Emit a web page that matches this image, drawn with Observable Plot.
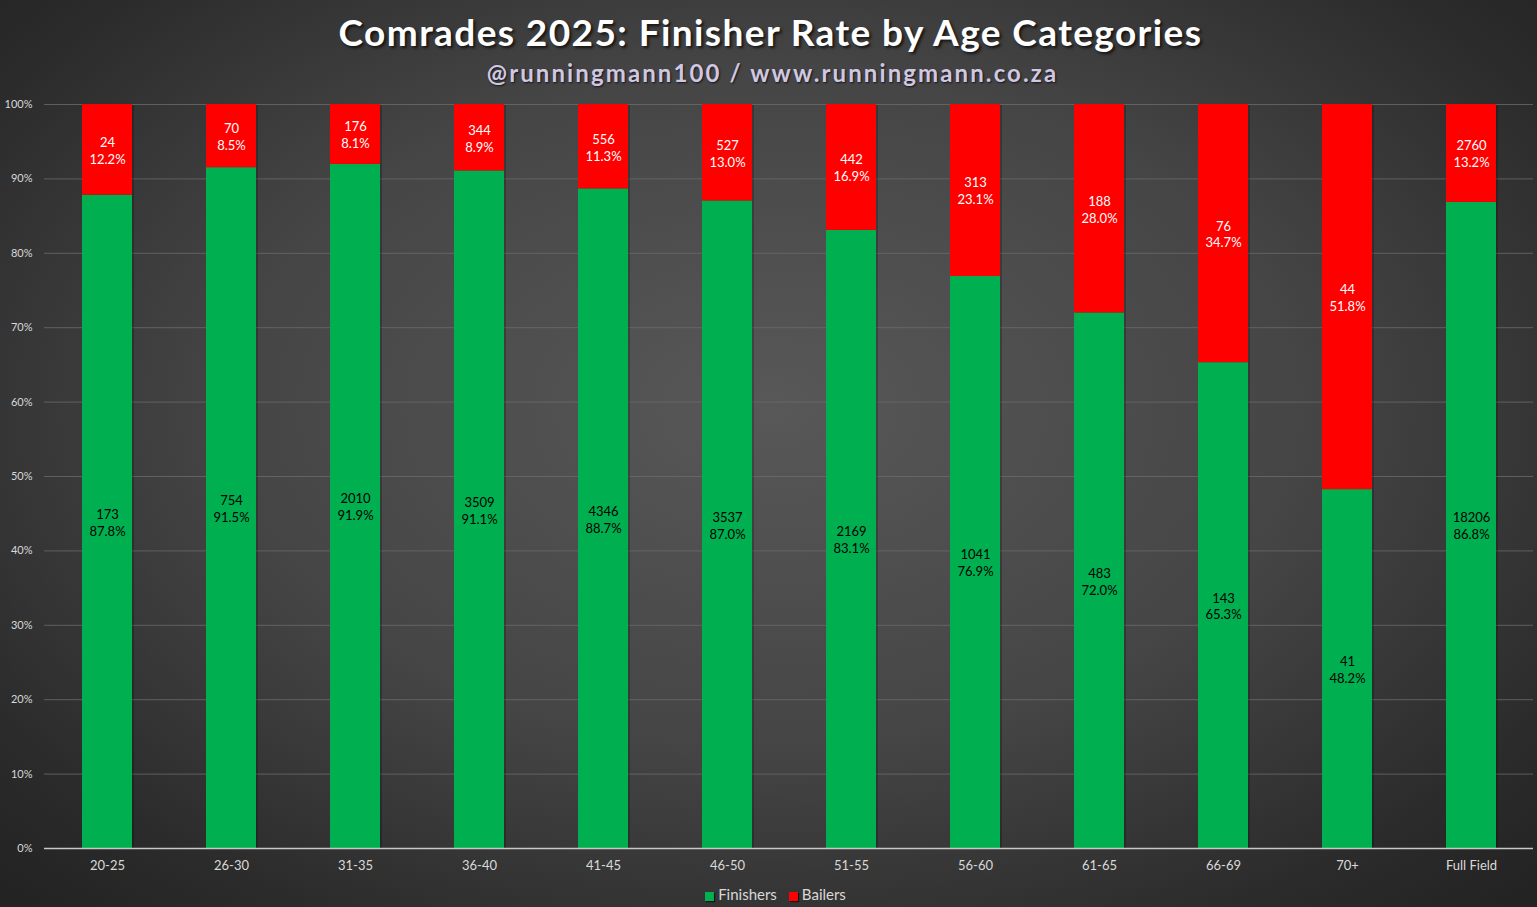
<!DOCTYPE html>
<html><head><meta charset="utf-8">
<script src="https://cdn.jsdelivr.net/npm/d3@7"></script>
<script src="https://cdn.jsdelivr.net/npm/@observablehq/plot@0.6"></script>
<style>
body{margin:0;background:#2a2a2a;}
#wrap{position:relative;width:1537px;height:907px;overflow:hidden;
 background:radial-gradient(ellipse 70% 75% at 50% 45%, #585858 0%, #454545 50%, #2b2b2b 85%, #232323 100%);
 font-family:Lato,"Open Sans",sans-serif;}
#title{position:absolute;top:8px;left:2px;width:100%;text-align:center;color:#fff;font-weight:700;font-size:37px;line-height:48px;letter-spacing:1.4px;text-shadow:2px 2px 3px rgba(0,0,0,.7);}
#subtitle{position:absolute;top:58px;left:4px;width:100%;text-align:center;color:#d0c8e2;font-weight:700;font-size:24px;line-height:30px;letter-spacing:2.1px;text-shadow:1px 1px 2px rgba(0,0,0,.7);}
#chart{position:absolute;top:90px;left:0;}
#legend{position:absolute;top:884px;left:7px;width:100%;text-align:center;color:#d9d9d9;font-size:15px;line-height:20px;}
#legend span.sw{display:inline-block;width:9px;height:9px;margin-right:4px;vertical-align:-1px;box-shadow:1px 1px 1px rgba(0,0,0,.6);}
#legend span.item{margin:0 6px;}
</style></head>
<body>
<div id="wrap">
 <div id="title">Comrades 2025: Finisher Rate by Age Categories</div>
 <div id="subtitle">@runningmann100 / www.runningmann.co.za</div>
 <div id="chart"></div>
 <div id="legend"></div>
</div>
<script>
const categories = ["20-25","26-30","31-35","36-40","41-45","46-50","51-55","56-60","61-65","66-69","70+","Full Field"];
const finishers = [173,754,2010,3509,4346,3537,2169,1041,483,143,41,18206];
const bailers = [24,70,176,344,556,527,442,313,188,76,44,2760];
const yTicks = [0,0.1,0.2,0.3,0.4,0.5,0.6,0.7,0.8,0.9,1];
const seriesNames = ["Finishers","Bailers"];
const seriesColors = ["#00b050","#ff0000"];
const labelColors = ["#000000","#ffffff"];

const rows = [];
categories.forEach((c,i)=>{
  const tot = finishers[i]+bailers[i];
  const fs = finishers[i]/tot;
  rows.push({cat:c, series:seriesNames[0], y1:0, y2:fs, count:finishers[i], share:fs});
  rows.push({cat:c, series:seriesNames[1], y1:fs, y2:1, count:bailers[i], share:1-fs});
});
const pct = d3.format(".1%");

const chart = Plot.plot({
  width:1537, height:800,
  marginLeft:44, marginRight:4, marginTop:14, marginBottom:42,
  style:{background:"transparent", color:"#d9d9d9", fontFamily:"Lato, 'Open Sans', sans-serif"},
  x:{domain:categories, paddingInner:0.6, paddingOuter:0.3, label:null},
  y:{domain:[0,1], label:null},
  color:{domain:seriesNames, range:seriesColors},
  marks:[
    Plot.gridY(yTicks.slice(1), {stroke:"#6a6a6a", strokeOpacity:0.8, strokeWidth:1}),
    Plot.barY(rows, {x:"cat", y1:"y1", y2:"y2", fill:"#000", fillOpacity:0.22, dx:2, dy:1}),
    Plot.barY(rows, {x:"cat", y1:"y1", y2:"y2", fill:"series"}),
    Plot.ruleY([0], {stroke:"#c8c8c8", strokeWidth:1.3}),
    Plot.text(rows, {x:"cat", y:d=>(d.y1+d.y2)/2, text:d=>d.count+"\n"+pct(d.share),
      fill:d=>labelColors[seriesNames.indexOf(d.series)], fontSize:13, lineHeight:1.3}),
    Plot.axisY(yTicks, {tickFormat:d3.format(".0%"), tickSize:0, tickPadding:12, fontSize:11, fill:"#d9d9d9"}),
    Plot.axisX({tickSize:0, tickPadding:12, fontSize:13, fill:"#d9d9d9", label:null})
  ]
});
document.getElementById("chart").appendChild(chart);

const leg = document.getElementById("legend");
seriesNames.forEach((s,i)=>{
  const item = document.createElement("span"); item.className="item";
  const sw = document.createElement("span"); sw.className="sw"; sw.style.background=seriesColors[i];
  item.appendChild(sw); item.appendChild(document.createTextNode(s));
  leg.appendChild(item);
});
</script>
</body></html>
